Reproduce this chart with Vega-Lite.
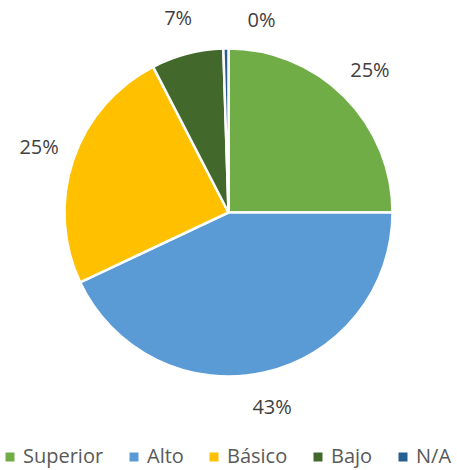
{
  "$schema": "https://vega.github.io/schema/vega-lite/v6.json",
  "width": 457,
  "height": 470,
  "autosize": {"type": "fit", "contains": "padding"},
  "padding": {"top": 4, "bottom": 3, "left": 0, "right": 0},
  "background": "white",
  "view": {"stroke": null},
  "data": {
    "values": [
      {"cat": "Superior", "value": 25.0, "label": "25%", "idx": 1},
      {"cat": "Alto", "value": 43.0, "label": "43%", "idx": 2},
      {"cat": "Básico", "value": 24.4, "label": "25%", "idx": 3},
      {"cat": "Bajo", "value": 7.1, "label": "7%", "idx": 4},
      {"cat": "N/A", "value": 0.5, "label": "0%", "idx": 5}
    ]
  },
  "encoding": {
    "theta": {"field": "value", "type": "quantitative", "stack": true},
    "order": {"field": "idx", "type": "ordinal"},
    "color": {
      "field": "cat",
      "type": "nominal",
      "sort": null,
      "scale": {
        "domain": ["Superior", "Alto", "Básico", "Bajo", "N/A"],
        "range": ["#70AD47", "#5B9BD5", "#FFC000", "#43682B", "#255E91"]
      },
      "legend": {
        "orient": "bottom",
        "direction": "horizontal",
        "title": null,
        "symbolType": "square",
        "symbolSize": 81,
        "symbolStrokeWidth": 0,
        "labelFont": "Open Sans",
        "labelFontSize": 20,
        "labelColor": "#595959",
        "columnPadding": 20,
        "symbolOffset": 0,
        "labelOffset": 3,
        "padding": 0,
        "offset": 26
      }
    }
  },
  "layer": [
    {
      "mark": {"type": "arc", "outerRadius": 164, "stroke": "white", "strokeWidth": 2.5}
    },
    {
      "mark": {"type": "text", "radius": 200, "font": "Open Sans", "fontSize": 20, "color": "#404040"},
      "encoding": {
        "text": {"condition": {"test": "datum.cat !== 'N/A'", "field": "label"}, "value": ""},
        "color": {"value": "#404040"}
      }
    },
    {
      "mark": {"type": "text", "radius": 192, "font": "Open Sans", "fontSize": 20, "color": "#404040", "dx": 36, "dy": 0},
      "encoding": {
        "text": {"condition": {"test": "datum.cat === 'N/A'", "field": "label"}, "value": ""},
        "color": {"value": "#404040"}
      }
    }
  ]
}
